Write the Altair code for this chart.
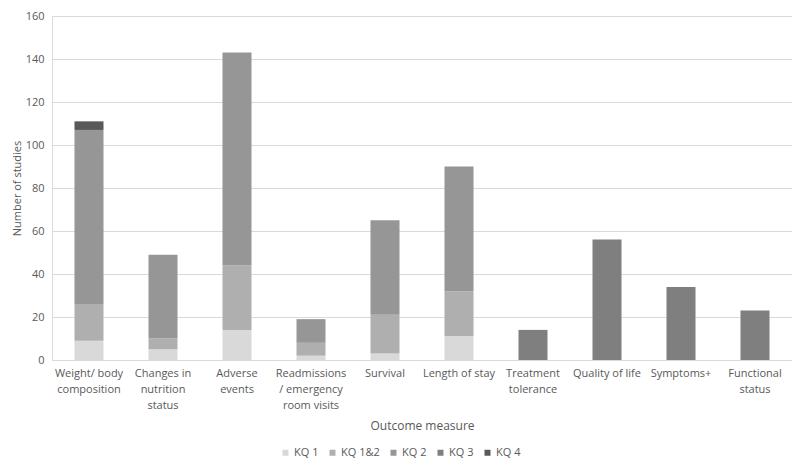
import altair as alt
import pandas as pd

categories = ["Weight/ body|composition", "Changes in|nutrition|status", "Adverse|events",
              "Readmissions|/ emergency|room visits", "Survival", "Length of stay",
              "Treatment|tolerance", "Quality of life", "Symptoms+", "Functional|status"]
series = ["KQ 1", "KQ 1&2", "KQ 2", "KQ 3", "KQ 4"]
kq1 = [9, 5, 14, 2, 3, 11, 0, 0, 0, 0]
kq12 = [17, 5, 30, 6, 18, 21, 0, 0, 0, 0]
kq2 = [81, 39, 99, 11, 44, 58, 0, 0, 0, 0]
kq3 = [0, 0, 0, 0, 0, 0, 14, 56, 34, 23]
kq4 = [4, 0, 0, 0, 0, 0, 0, 0, 0, 0]
colors = ["#d9d9d9", "#afafaf", "#969696", "#7f7f7f", "#595959"]

rows = []
for s_i, (s, vals) in enumerate(zip(series, [kq1, kq12, kq2, kq3, kq4])):
    for c, v in zip(categories, vals):
        if v > 0:
            rows.append({"cat": c, "series": s, "value": v, "ord": s_i})
df = pd.DataFrame(rows)

font = "Open Sans"
tc = "#595959"

chart = alt.Chart(df).mark_bar(size=29).encode(
    x=alt.X("cat:N", sort=categories, title="Outcome measure",
            scale=alt.Scale(paddingInner=0.6, paddingOuter=0.3),
            axis=alt.Axis(labelExpr="split(datum.label, '|')", labelAngle=0,
                          ticks=False, domainColor="#d9d9d9", labelColor=tc,
                          labelFont=font, labelFontSize=11, labelPadding=7,
                          titleFont=font, titleFontSize=12, titleColor=tc,
                          titleFontWeight="normal", titlePadding=10, labelLineHeight=16)),
    y=alt.Y("value:Q", stack="zero", title="Number of studies",
            scale=alt.Scale(domain=[0, 160]),
            axis=alt.Axis(values=list(range(0, 161, 20)), domain=False, ticks=False,
                          gridColor="#d9d9d9", labelColor=tc, labelFont=font,
                          labelFontSize=11, labelPadding=8, titleFont=font,
                          titleFontSize=11, titleColor=tc, titleFontWeight="normal",
                          titlePadding=3)),
    color=alt.Color("series:N", sort=series,
                    scale=alt.Scale(domain=series, range=colors),
                    legend=alt.Legend(orient="none", direction="horizontal", title=None,
                                      legendX=228, legendY=431,
                                      symbolType="square", symbolSize=36,
                                      symbolStrokeWidth=0, labelFont=font,
                                      labelFontSize=11, labelColor=tc, columnPadding=8,
                                      labelOffset=3)),
    order=alt.Order("ord:Q", sort="ascending"),
).properties(
    width=740, height=344,
    autosize=alt.AutoSizeParams(type="none"),
    padding={"left": 44, "top": 8, "right": 0, "bottom": 102},
).configure_view(stroke=None).configure(background="white")

chart.save("out.html", embed_options={"renderer": "svg", "actions": False})
